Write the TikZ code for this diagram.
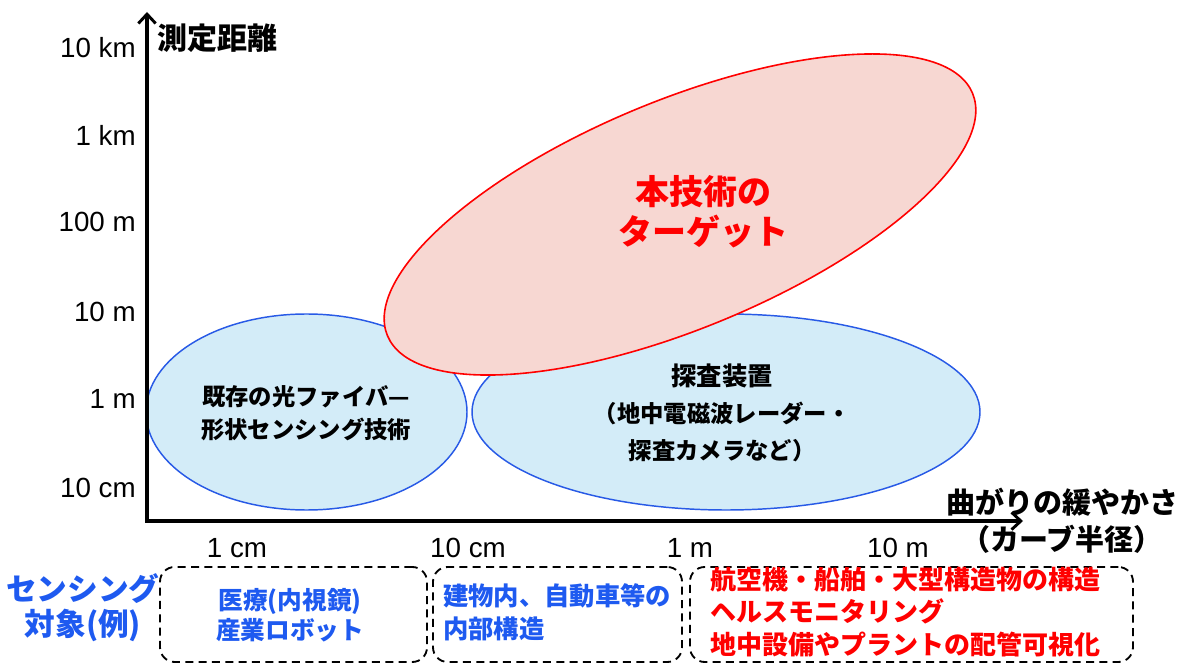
\documentclass[tikz,border=0pt]{standalone}
\usepackage{fontspec}
\setmainfont{Liberation Sans}
\newfontfamily\jp{Noto Sans CJK JP}
\usetikzlibrary{arrows.meta,shapes.geometric}
\definecolor{ellblue}{RGB}{40,90,230}
\definecolor{fillblue}{RGB}{211,236,248}
\definecolor{fillpink}{RGB}{247,215,210}
\definecolor{txtblue}{RGB}{30,90,240}
\definecolor{txtred}{RGB}{255,0,0}
\tikzset{
  blueell/.style={ellipse, draw=ellblue, fill=fillblue, line width=1.1pt, inner sep=0pt, outer sep=0pt},
  redell/.style={ellipse, draw=txtred, fill=fillpink, line width=1.2pt, inner sep=0pt, outer sep=0pt},
  axisline/.style={line width=3pt, line join=miter, {Straight Barb[length=7pt,width=13pt,line width=2.2pt]}-{Straight Barb[length=7pt,width=13pt,line width=2.2pt]}},
  tick/.style={font=\fontsize{20.8}{24}\selectfont, inner sep=0pt},
  dbox/.style={draw, line width=1.4pt, dash pattern=on 6pt off 4pt, rounded corners=11pt, inner sep=0pt, minimum height=71.25pt},
  jpb/.style={font=\jp\bfseries\fontsize{#1}{#1}\selectfont, inner sep=0pt},
}
\begin{document}
\begin{tikzpicture}[x=0.75pt,y=-0.75pt]
\useasboundingbox (0,0) rectangle (1189,666);
% ellipses
\node[blueell, minimum width=240.75pt, minimum height=147pt] (fiber) at (306.5,412) {};
\node[blueell, minimum width=381pt, minimum height=147pt] (probe) at (726,412) {};
\node[redell, rotate=22.5, minimum width=475pt, minimum height=171pt] (target) at (680,214.5) {};
% axes
\coordinate (ytip) at (147,12);
\coordinate (xtip) at (1023,521);
\draw[axisline] (ytip) |- (xtip);
% axis titles
\node[jpb=22.5, anchor=west] (ytitle) at (157,38) {測定距離};
\node[jpb=21.75, align=center, font=\jp\bfseries\fontsize{21.75}{28}\selectfont] (xtitle) at (1062,521) {曲がりの緩やかさ\\（カーブ半径）};
% y ticks
\node[tick, anchor=east] (t1) at (136,48) {10 km};
\node[tick, anchor=east] (t2) at (136,135) {1 km};
\node[tick, anchor=east] (t3) at (136,222) {100 m};
\node[tick, anchor=east] (t4) at (136,312) {10 m};
\node[tick, anchor=east] (t5) at (136,399) {1 m};
\node[tick, anchor=east] (t6) at (136,488) {10 cm};
% x ticks
\node[tick] (u1) at (237,548) {1 cm};
\node[tick] (u2) at (468,548) {10 cm};
\node[tick] (u3) at (690,548) {1 m};
\node[tick] (u4) at (898,548) {10 m};
% ellipse texts
\node[align=center, inner sep=0pt, font=\jp\bfseries\fontsize{17.5}{24.75}\selectfont] (fibertxt) at (306,413) {既存の光ファイバ—\\形状センシング技術};
\node[align=center, inner sep=0pt, font=\jp\bfseries\fontsize{17.5}{28}\selectfont] (probetxt) at (722,413) {\fontsize{19}{28}\selectfont 探査装置\\（地中電磁波レーダー・\\探査カメラなど）};
\node[align=center, inner sep=0pt, text=txtred, font=\jp\bfseries\fontsize{25.5}{30}\selectfont] (targettxt) at (703,212) {本技術の\\ターゲット};
% sensing targets
\node[align=center, inner sep=0pt, text=txtblue, font=\jp\bfseries\fontsize{23}{26.5}\selectfont] (senslbl) at (83,608) {センシング\\対象(例)};
\node[dbox, minimum width=200.25pt] (box1) at (293.5,614.5) {};
\node[dbox, minimum width=186.75pt] (box2) at (557.5,614.5) {};
\node[dbox, minimum width=332.25pt] (box3) at (911.5,614.5) {};
\node[align=center, inner sep=0pt, text=txtblue, font=\jp\bfseries\fontsize{18.5}{22.5}\selectfont] (box1txt) at (290,615) {医療(内視鏡)\\産業ロボット};
\node[align=left, anchor=west, inner sep=0pt, text=txtblue, font=\jp\bfseries\fontsize{19}{24.75}\selectfont] (box2txt) at (443,612) {建物内、自動車等の\\内部構造};
\node[align=left, anchor=west, inner sep=0pt, text=txtred, font=\jp\bfseries\fontsize{19.5}{24.4}\selectfont] (box3txt) at (710,612) {航空機・船舶・大型構造物の構造\\ヘルスモニタリング\\地中設備やプラントの配管可視化};
\end{tikzpicture}
\end{document}
